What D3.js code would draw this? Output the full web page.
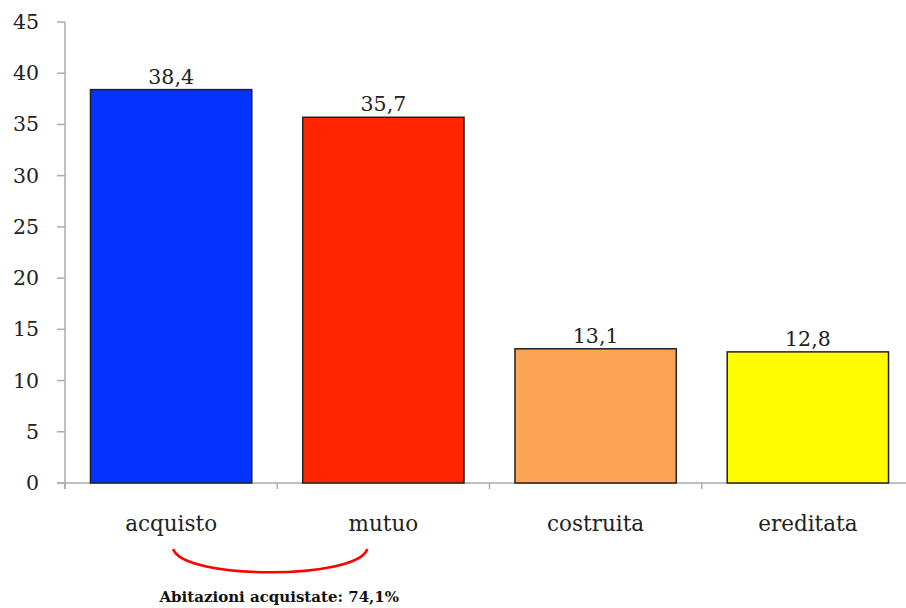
<!DOCTYPE html>
<html>
<head>
<meta charset="utf-8">
<script src="https://cdn.jsdelivr.net/npm/d3@7"></script>
<style>
  html, body { margin: 0; padding: 0; background: #fff; }
  svg { display: block; }
</style>
</head>
<body>
<svg id="chart" width="906" height="608"></svg>
<script>
const categories = ["acquisto", "mutuo", "costruita", "ereditata"];
const values = [38.4, 35.7, 13.1, 12.8];
const valueLabels = ["38,4", "35,7", "13,1", "12,8"];
const colors = ["#0433FF", "#FF2600", "#FCA456", "#FFFB00"];
const yTicks = [0, 5, 10, 15, 20, 25, 30, 35, 40, 45];
const annotation = "Abitazioni acquistate: 74,1%";

const svg = d3.select("#chart");
const fontFamily = "'DejaVu Serif', 'Liberation Serif', serif";
const axisColor = "#ababab";

const x = d3.scaleBand().domain(categories).range([65, 914])
  .paddingInner(0.24).paddingOuter(0.12);
const y = d3.scaleLinear().domain([0, 45]).range([483, 22]);
const step = x.step();

// y axis line
svg.append("line")
  .attr("x1", 65).attr("x2", 65)
  .attr("y1", y(45)).attr("y2", y(0) + 6)
  .attr("stroke", axisColor).attr("stroke-width", 1.5);

// y ticks and labels
yTicks.forEach(t => {
  svg.append("line")
    .attr("x1", 57).attr("x2", 65)
    .attr("y1", y(t)).attr("y2", y(t))
    .attr("stroke", axisColor).attr("stroke-width", 1.5);
  svg.append("text")
    .attr("x", 39).attr("y", y(t) + 7)
    .attr("text-anchor", "end")
    .attr("font-family", fontFamily).attr("font-size", 20.5)
    .attr("fill", "#222")
    .text(t);
});

// x axis line
svg.append("line")
  .attr("x1", 57).attr("x2", 914)
  .attr("y1", y(0)).attr("y2", y(0))
  .attr("stroke", axisColor).attr("stroke-width", 1.5);

// category ticks at band boundaries
categories.forEach((c, i) => {
  const bx = 65 + i * step;
  svg.append("line")
    .attr("x1", bx).attr("x2", bx)
    .attr("y1", y(0)).attr("y2", y(0) + 6)
    .attr("stroke", axisColor).attr("stroke-width", 1.5);
});

// bars
svg.selectAll("rect.bar").data(categories).enter().append("rect")
  .attr("class", "bar")
  .attr("x", d => x(d))
  .attr("width", x.bandwidth())
  .attr("y", (d, i) => y(values[i]))
  .attr("height", (d, i) => y(0) - y(values[i]))
  .attr("fill", (d, i) => colors[i])
  .attr("stroke", "#222").attr("stroke-width", 1.5);

// value labels
svg.selectAll("text.val").data(categories).enter().append("text")
  .attr("class", "val")
  .attr("x", d => x(d) + x.bandwidth() / 2)
  .attr("y", (d, i) => y(values[i]) - 6)
  .attr("text-anchor", "middle")
  .attr("font-family", fontFamily).attr("font-size", 20.5)
  .attr("fill", "#222")
  .text((d, i) => valueLabels[i]);

// category labels
svg.selectAll("text.cat").data(categories).enter().append("text")
  .attr("class", "cat")
  .attr("x", d => x(d) + x.bandwidth() / 2)
  .attr("y", 531)
  .attr("text-anchor", "middle")
  .attr("font-family", fontFamily).attr("font-size", 21.5)
  .attr("fill", "#222")
  .text(d => d);

// annotation arc between acquisto and mutuo
const xa = x("acquisto") + x.bandwidth() / 2;
const xm = x("mutuo") + x.bandwidth() / 2;
const x1 = xa + 2, x2 = xm - 16;
svg.append("path")
  .attr("d", `M${x1},549 C${x1 + 10},580 ${x2 - 10},580 ${x2},549`)
  .attr("fill", "none").attr("stroke", "#FF0000").attr("stroke-width", 2.5);

svg.append("text")
  .attr("x", (xa + xm) / 2 + 2)
  .attr("y", 602)
  .attr("text-anchor", "middle")
  .attr("font-family", fontFamily).attr("font-size", 15).attr("font-weight", "bold")
  .attr("fill", "#111")
  .text(annotation);
</script>
</body>
</html>
